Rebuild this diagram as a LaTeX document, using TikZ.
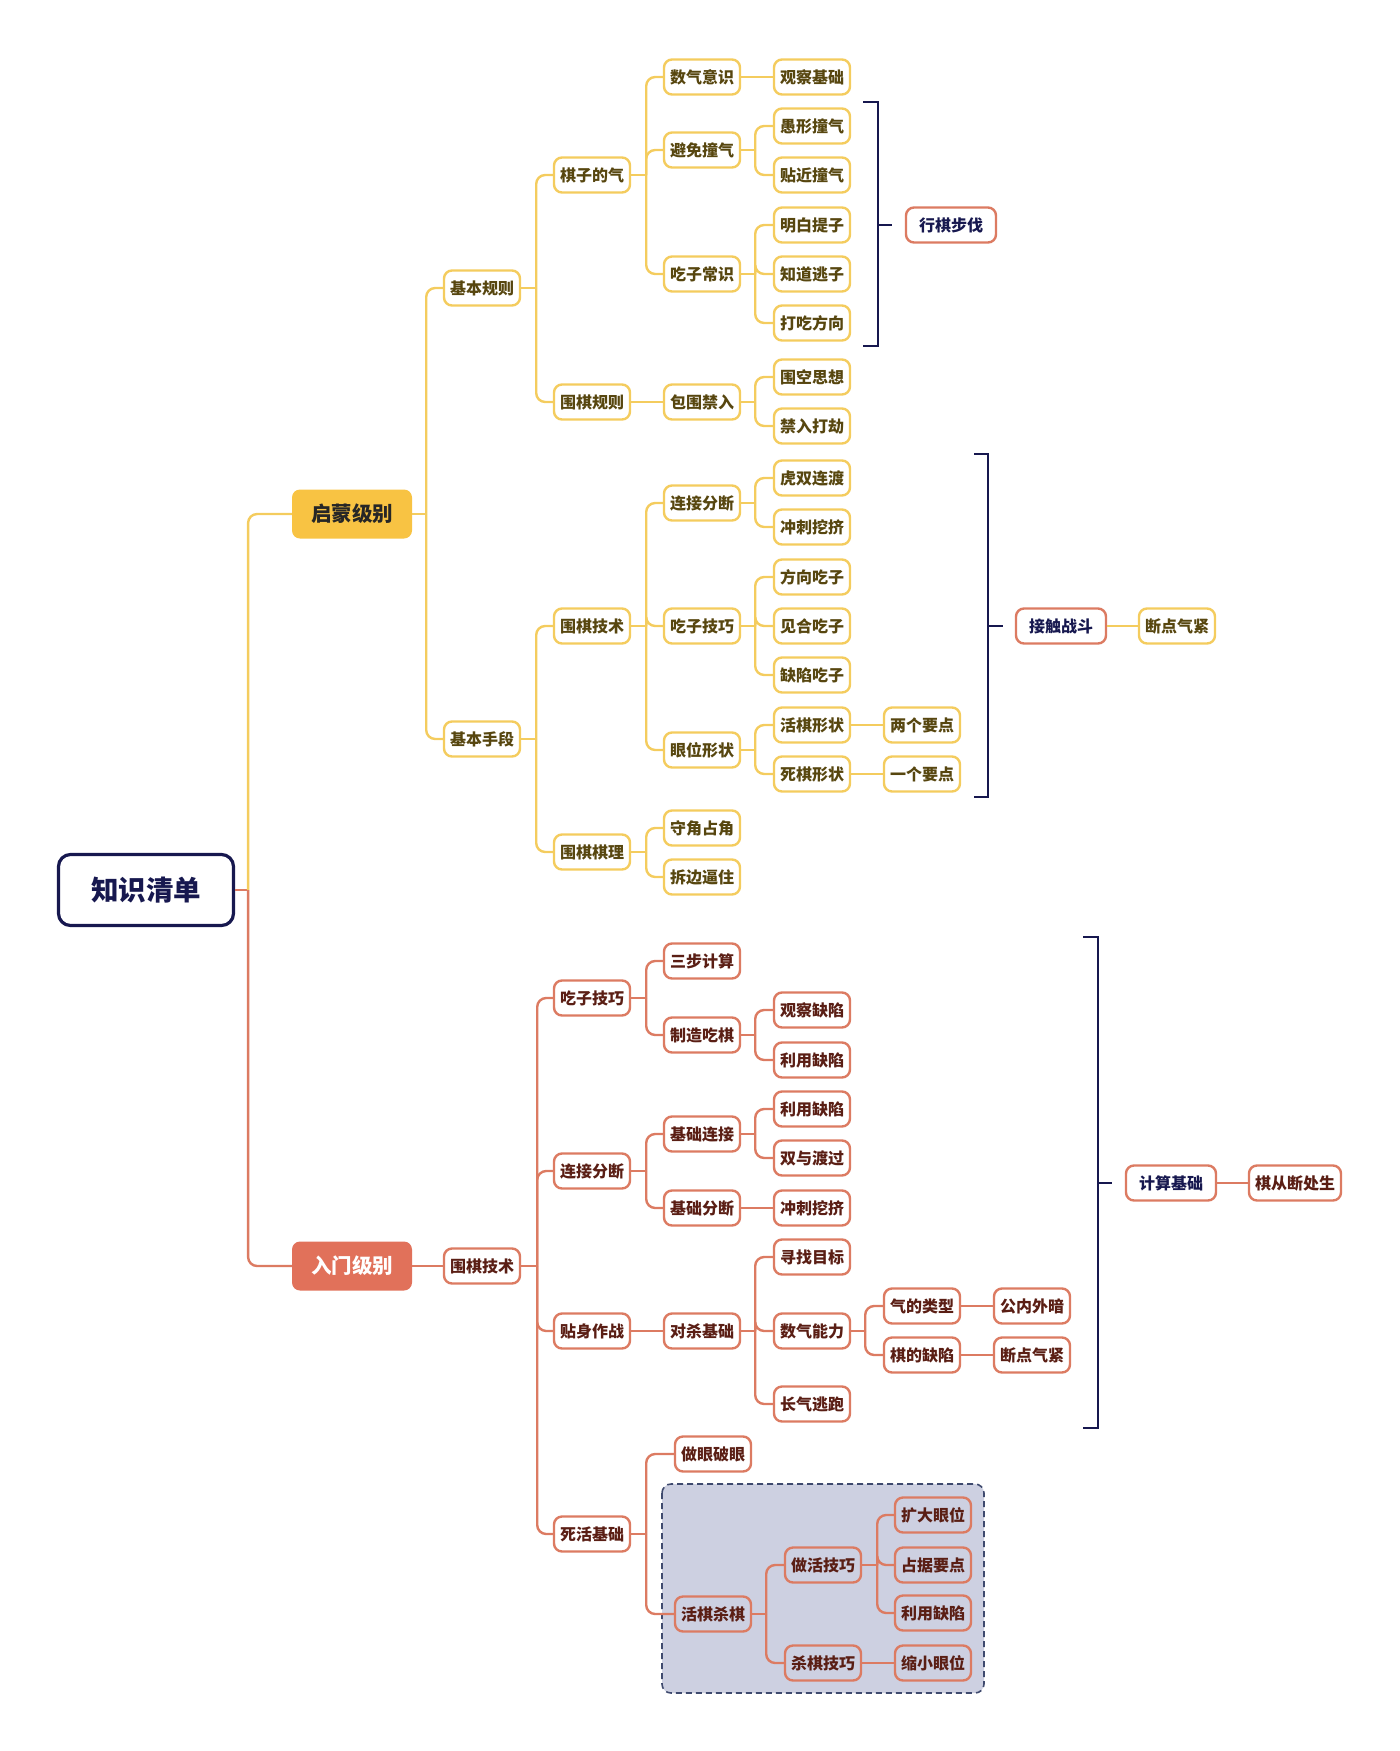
\documentclass[tikz,border=0pt]{standalone}
\usepackage{fontspec}
\usepackage{tikz}
\newfontfamily\cjk{Noto Sans CJK SC}
\definecolor{qyellow}{HTML}{F4CC5E}
\definecolor{qyfill}{HTML}{F8C343}
\definecolor{ytext}{HTML}{57460F}
\definecolor{qred}{HTML}{DC7B62}
\definecolor{qrfill}{HTML}{E1715A}
\definecolor{rtext}{HTML}{5A1E14}
\definecolor{navy}{HTML}{17184F}
\definecolor{lav}{HTML}{CDD0E1}
\definecolor{dashc}{HTML}{3F4A6E}
\tikzset{ybox/.style={draw=qyellow, fill=white, line width=2.4pt, rounded corners=8pt, minimum width=76pt, minimum height=35pt, inner sep=0pt, text=ytext, font={\cjk\bfseries\fontsize{16}{19}\selectfont}}}
\tikzset{rbox/.style={ybox, draw=qred, text=rtext}}
\tikzset{rboxin/.style={rbox, fill=none}}
\tikzset{sumbox/.style={rbox, text=navy, minimum width=90pt}}
\tikzset{lvlbox/.style={fill=#1, rounded corners=8pt, minimum width=120pt, minimum height=49pt, inner sep=0pt, font={\cjk\bfseries\fontsize{20.5}{24}\selectfont}}}
\tikzset{yline/.style={draw=qyellow, line width=2.4pt, rounded corners=9pt}}
\tikzset{rline/.style={yline, draw=qred}}
\tikzset{brak/.style={draw=navy, line width=2.4pt}}

\begin{document}
\begin{tikzpicture}[x=1pt, y=-1pt]
  \useasboundingbox (0,0) rectangle (1400,1751);
  % dashed group behind the life-and-death nodes
  \draw[fill=lav, draw=dashc, line width=1.6pt, dash pattern=on 6pt off 4pt, rounded corners=9pt] (662,1484) rectangle (984,1693);

  \node[draw=navy, line width=3.2pt, rounded corners=12pt, minimum width=175pt, minimum height=71pt, text=navy, font={\cjk\bfseries\fontsize{27.5}{32}\selectfont}] (root) at (146,890) {知识清单};
  \node[lvlbox=qyfill, text=black!85] (qimeng) at (352,514) {启蒙级别};
  \node[lvlbox=qrfill, text=white] (rumen) at (352,1266) {入门级别};

  % yellow branch
  \node[ybox] (jbgz) at (482,288) {基本规则};
  \node[ybox] (jbsd) at (482,739) {基本手段};
  \node[ybox] (qzdq) at (592,175) {棋子的气};
  \node[ybox] (wqgz) at (592,402) {围棋规则};
  \node[ybox] (wqjs) at (592,626) {围棋技术};
  \node[ybox] (wqql) at (592,852) {围棋棋理};
  \node[ybox] (sqys) at (702,77) {数气意识};
  \node[ybox] (bmzq) at (702,150) {避免撞气};
  \node[ybox] (czcs) at (702,274) {吃子常识};
  \node[ybox] (bwjr) at (702,402) {包围禁入};
  \node[ybox] (ljfd) at (702,503) {连接分断};
  \node[ybox] (czjq) at (702,626) {吃子技巧};
  \node[ybox] (ywxz) at (702,750) {眼位形状};
  \node[ybox] (sjzj) at (702,828) {守角占角};
  \node[ybox] (cbbz) at (702,877) {拆边逼住};
  \node[ybox] (gcjc) at (812,77) {观察基础};
  \node[ybox] (yxzq) at (812,126) {愚形撞气};
  \node[ybox] (tjzq) at (812,175) {贴近撞气};
  \node[ybox] (mbtz) at (812,225) {明白提子};
  \node[ybox] (zdtz) at (812,274) {知道逃子};
  \node[ybox] (dcfx) at (812,323) {打吃方向};
  \node[ybox] (wksx) at (812,377) {围空思想};
  \node[ybox] (jrdj) at (812,426) {禁入打劫};
  \node[ybox] (hsld) at (812,478) {虎双连渡};
  \node[ybox] (cctj) at (812,527) {冲刺挖挤};
  \node[ybox] (fxcz) at (812,577) {方向吃子};
  \node[ybox] (jhcz) at (812,626) {见合吃子};
  \node[ybox] (qxcz) at (812,675) {缺陷吃子};
  \node[ybox] (hqxz) at (812,725) {活棋形状};
  \node[ybox] (sqxz) at (812,774) {死棋形状};
  \node[ybox] (lgyd) at (922,725) {两个要点};
  \node[ybox] (ygyd) at (922,774) {一个要点};
  \node[sumbox] (xqbf) at (951,225) {行棋步伐};
  \node[sumbox] (jczd) at (1061,626) {接触战斗};
  \node[ybox] (ddqj) at (1177,626) {断点气紧};

  % red branch
  \node[rbox] (rwqjs) at (482,1266) {围棋技术};
  \node[rbox] (rczjq) at (592,998) {吃子技巧};
  \node[rbox] (rljfd) at (592,1171) {连接分断};
  \node[rbox] (tszz) at (592,1331) {贴身作战};
  \node[rbox] (shjc) at (592,1534) {死活基础};
  \node[rbox] (sbjs) at (702,961) {三步计算};
  \node[rbox] (zzcq) at (702,1035) {制造吃棋};
  \node[rbox] (jclj) at (702,1134) {基础连接};
  \node[rbox] (jcfd) at (702,1208) {基础分断};
  \node[rbox] (dsjc) at (702,1331) {对杀基础};
  \node[rbox] (zypy) at (713,1454) {做眼破眼};
  \node[rboxin] (hqsq) at (713,1614) {活棋杀棋};
  \node[rbox] (gcqx) at (812,1010) {观察缺陷};
  \node[rbox] (lyqxa) at (812,1060) {利用缺陷};
  \node[rbox] (lyqxb) at (812,1109) {利用缺陷};
  \node[rbox] (sydg) at (812,1158) {双与渡过};
  \node[rbox] (rcctj) at (812,1208) {冲刺挖挤};
  \node[rbox] (xzmb) at (812,1257) {寻找目标};
  \node[rbox] (sqnl) at (812,1331) {数气能力};
  \node[rbox] (cqtp) at (812,1404) {长气逃跑};
  \node[rbox] (qdlx) at (922,1306) {气的类型};
  \node[rbox] (qdqx) at (922,1355) {棋的缺陷};
  \node[rbox] (gnwa) at (1032,1306) {公内外暗};
  \node[rbox] (rddqj) at (1032,1355) {断点气紧};
  \node[rboxin] (zhjq) at (823,1565) {做活技巧};
  \node[rboxin] (sqjq) at (823,1663) {杀棋技巧};
  \node[rboxin] (kdyw) at (933,1515) {扩大眼位};
  \node[rboxin] (zjyd) at (933,1565) {占据要点};
  \node[rboxin] (lyqxc) at (933,1613) {利用缺陷};
  \node[rboxin] (sxyw) at (933,1663) {缩小眼位};
  \node[sumbox] (jsjc) at (1171,1183) {计算基础};
  \node[sumbox, text=rtext, minimum width=92pt] (qcdc) at (1295,1183) {棋从断处生};

  % trunk
  \coordinate (trunk) at ([xshift=13]root.east);
  \draw[rline] (root.east) -- (trunk);
  \draw[yline] (trunk) |- (qimeng.west);
  \draw[rline] (trunk) |- (rumen.west);

  % yellow connectors
  \draw[yline] (qimeng.east) -- ++(14,0) coordinate (s);
  \foreach \c in {jbgz,jbsd} \draw[yline] (s) |- (\c.west);
  \draw[yline] (jbgz.east) -- ++(15,0) coordinate (s);
  \foreach \c in {qzdq,wqgz} \draw[yline] (s) |- (\c.west);
  \draw[yline] (jbsd.east) -- ++(15,0) coordinate (s);
  \foreach \c in {wqjs,wqql} \draw[yline] (s) |- (\c.west);
  \draw[yline] (qzdq.east) -- ++(15,0) coordinate (s);
  \foreach \c in {sqys,bmzq,czcs} \draw[yline] (s) |- (\c.west);
  \draw[yline] (wqjs.east) -- ++(15,0) coordinate (s);
  \foreach \c in {ljfd,czjq,ywxz} \draw[yline] (s) |- (\c.west);
  \draw[yline] (wqql.east) -- ++(15,0) coordinate (s);
  \foreach \c in {sjzj,cbbz} \draw[yline] (s) |- (\c.west);
  \draw[yline] (bmzq.east) -- ++(14,0) coordinate (s);
  \foreach \c in {yxzq,tjzq} \draw[yline] (s) |- (\c.west);
  \draw[yline] (czcs.east) -- ++(14,0) coordinate (s);
  \foreach \c in {mbtz,zdtz,dcfx} \draw[yline] (s) |- (\c.west);
  \draw[yline] (bwjr.east) -- ++(14,0) coordinate (s);
  \foreach \c in {wksx,jrdj} \draw[yline] (s) |- (\c.west);
  \draw[yline] (ljfd.east) -- ++(14,0) coordinate (s);
  \foreach \c in {hsld,cctj} \draw[yline] (s) |- (\c.west);
  \draw[yline] (czjq.east) -- ++(14,0) coordinate (s);
  \foreach \c in {fxcz,jhcz,qxcz} \draw[yline] (s) |- (\c.west);
  \draw[yline] (ywxz.east) -- ++(14,0) coordinate (s);
  \foreach \c in {hqxz,sqxz} \draw[yline] (s) |- (\c.west);
  \draw[yline] (wqgz) -- (bwjr);
  \draw[yline] (sqys) -- (gcjc);
  \draw[yline] (hqxz) -- (lgyd);
  \draw[yline] (sqxz) -- (ygyd);
  \draw[yline] (jczd) -- (ddqj);

  % red connectors
  \draw[rline] (rumen) -- (rwqjs);
  \draw[rline] (rwqjs.east) -- ++(16,0) coordinate (s);
  \foreach \c in {rczjq,rljfd,tszz,shjc} \draw[rline] (s) |- (\c.west);
  \draw[rline] (rczjq.east) -- ++(15,0) coordinate (s);
  \foreach \c in {sbjs,zzcq} \draw[rline] (s) |- (\c.west);
  \draw[rline] (rljfd.east) -- ++(15,0) coordinate (s);
  \foreach \c in {jclj,jcfd} \draw[rline] (s) |- (\c.west);
  \draw[rline] (shjc.east) -- ++(15,0) coordinate (s);
  \foreach \c in {zypy,hqsq} \draw[rline] (s) |- (\c.west);
  \draw[rline] (zzcq.east) -- ++(14,0) coordinate (s);
  \foreach \c in {gcqx,lyqxa} \draw[rline] (s) |- (\c.west);
  \draw[rline] (jclj.east) -- ++(14,0) coordinate (s);
  \foreach \c in {lyqxb,sydg} \draw[rline] (s) |- (\c.west);
  \draw[rline] (dsjc.east) -- ++(14,0) coordinate (s);
  \foreach \c in {xzmb,sqnl,cqtp} \draw[rline] (s) |- (\c.west);
  \draw[rline] (sqnl.east) -- ++(14,0) coordinate (s);
  \foreach \c in {qdlx,qdqx} \draw[rline] (s) |- (\c.west);
  \draw[rline] (hqsq.east) -- ++(14,0) coordinate (s);
  \foreach \c in {zhjq,sqjq} \draw[rline] (s) |- (\c.west);
  \draw[rline] (zhjq.east) -- ++(15,0) coordinate (s);
  \foreach \c in {kdyw,zjyd,lyqxc} \draw[rline] (s) |- (\c.west);
  \draw[rline] (tszz) -- (dsjc);
  \draw[rline] (jcfd) -- (rcctj);
  \draw[rline] (qdlx) -- (gnwa);
  \draw[rline] (qdqx) -- (rddqj);
  \draw[rline] (sqjq) -- (sxyw);
  \draw[rline] (jsjc) -- (qcdc);

  % brackets
  \draw[brak] (863,102) -| (878,346) -- (863,346);
  \draw[brak] (878,225) -- (892,225);
  \draw[brak] (974,454) -| (988,797) -- (974,797);
  \draw[brak] (988,626) -- (1003,626);
  \draw[brak] (1083,937) -| (1098,1428) -- (1083,1428);
  \draw[brak] (1098,1183) -- (1112,1183);
\end{tikzpicture}
\end{document}
